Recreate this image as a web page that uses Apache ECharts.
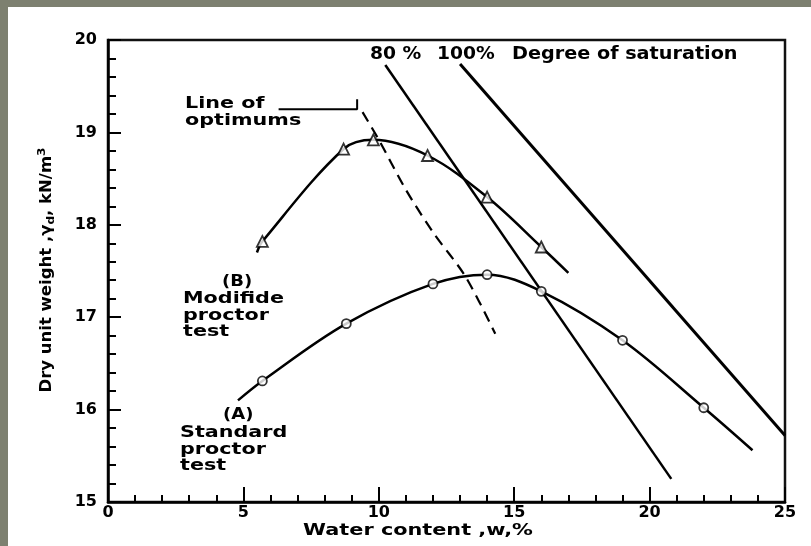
<!DOCTYPE html>
<html><head><meta charset="utf-8">
<script src="https://cdn.jsdelivr.net/npm/echarts@6/dist/echarts.min.js"></script>
<style>
html,body{margin:0;padding:0;background:#7d8070;}
#wrap{position:absolute;left:8px;top:7px;width:803px;height:539px;background:#fff;}
#c{position:absolute;left:0;top:0;width:811px;height:546px;}
</style></head>
<body><div id="wrap"></div><div id="c"></div>
<script>
// X / Y tick labels
const xTicks = [0, 5, 10, 15, 20, 25];
const yTicks = [15, 16, 17, 18, 19, 20];
// (B) Modified proctor test: measured points and drawn curve
const modX = [5.7, 8.7, 9.8, 11.8, 14.0, 16.0];
const modY = [17.82, 18.82, 18.92, 18.75, 18.30, 17.76];
const modCurveX = [5.5, 5.7, 8.7, 9.8, 11.8, 14.0, 16.0, 17.0];
const modCurveY = [17.70, 17.82, 18.82, 18.92, 18.75, 18.30, 17.76, 17.48];
// (A) Standard proctor test
const stdX = [5.7, 8.8, 12.0, 14.0, 16.0, 19.0, 22.0];
const stdY = [16.31, 16.93, 17.36, 17.46, 17.28, 16.75, 16.02];
const stdCurveX = [4.8, 5.7, 8.8, 12.0, 14.0, 16.0, 19.0, 22.0, 23.8];
const stdCurveY = [16.10, 16.31, 16.93, 17.36, 17.46, 17.28, 16.75, 16.02, 15.56];
// Line of optimums (dashed)
const optX = [9.4, 10.0, 11.0, 12.0, 13.2, 14.3];
const optY = [19.22, 18.92, 18.38, 17.92, 17.44, 16.82];
// leader line from label
const leadX = [6.3, 9.2, 9.2];
const leadY = [19.25, 19.25, 19.36];
// Saturation lines
const sat80X = [10.24, 20.8];
const sat80Y = [19.73, 15.25];
const sat100X = [13.0, 25.0];
const sat100Y = [19.74, 15.72];

const zip = (a, b) => a.map((v, i) => [v, b[i]]);
const font = '"DejaVu Sans", sans-serif';
const chart = echarts.init(document.getElementById('c'), null, {renderer: 'canvas'});
const lineS = (data, extra) => Object.assign({
  type: 'line', data, showSymbol: false, symbol: 'none', silent: true,
  lineStyle: {color: '#000', width: 2.5}, z: 3
}, extra || {});
const txt = (text, x, y, size, sx) => ({type: 'text', x, y, scaleX: sx || 1.38,
  style: {text, font: 'bold ' + size + 'px ' + font, fill: '#000', lineHeight: 16.5}});
chart.setOption({
  animation: false,
  backgroundColor: 'transparent',
  grid: {left: 108, right: 26, top: 40, bottom: 44, show: true, borderColor: '#111', borderWidth: 2.5, backgroundColor: 'transparent'},
  xAxis: {
    type: 'value', min: 0, max: 25, interval: 5,
    axisLine: {lineStyle: {color: '#000', width: 2.5}},
    axisTick: {inside: true, length: 15, lineStyle: {color: '#000', width: 2}},
    minorTick: {show: true, splitNumber: 5, length: 7, lineStyle: {color: '#000', width: 2}},
    axisLabel: {fontFamily: font, fontWeight: 'bold', fontSize: 16, color: '#000', margin: 3,
      formatter: v => xTicks.includes(v) ? String(v) : ''},
    splitLine: {show: false}
  },
  yAxis: {
    type: 'value', min: 15, max: 20, interval: 1,
    axisLine: {lineStyle: {color: '#000', width: 2.5}},
    axisTick: {inside: true, length: 13, lineStyle: {color: '#000', width: 2}},
    minorTick: {show: true, splitNumber: 5, length: 8, lineStyle: {color: '#000', width: 2}},
    axisLabel: {fontFamily: font, fontWeight: 'bold', fontSize: 16, color: '#000', margin: 11,
      formatter: v => yTicks.includes(v) ? String(v) : ''},
    splitLine: {show: false}
  },
  series: [
    lineS(zip(modCurveX, modCurveY), {smooth: 0.35}),
    lineS(zip(stdCurveX, stdCurveY), {smooth: 0.35}),
    lineS(zip(optX, optY), {smooth: 0.3, lineStyle: {color: '#000', width: 2.2, type: [11, 7]}}),
    lineS(zip(leadX, leadY), {lineStyle: {color: '#000', width: 2}}),
    lineS(zip(sat80X, sat80Y)),
    lineS(zip(sat100X, sat100Y), {lineStyle: {color: '#000', width: 3}}),
    {type: 'scatter', data: zip(modX, modY), symbol: 'triangle', symbolSize: 11, z: 5,
      itemStyle: {color: '#fff', borderColor: '#000', borderWidth: 1.8}},
    {type: 'scatter', data: zip(stdX, stdY), symbol: 'circle', symbolSize: 9, z: 5,
      itemStyle: {color: '#fff', borderColor: '#000', borderWidth: 1.8}}
  ],
  graphic: [
    txt('80 %', 370, 46, 17, 1.1),
    txt('100%', 437, 46, 17, 1.1),
    txt('Degree of saturation', 512, 46, 17, 1.13),
    txt('Line of\noptimums', 185, 96, 15),
    txt('(B)', 222, 274, 15, 1.2),
    txt('Modifide\nproctor\ntest', 183, 291, 15),
    txt('(A)', 223, 407, 15, 1.2),
    txt('Standard\nproctor\ntest', 180, 425, 15),
    {type: 'text', x: 418, y: 531, scaleX: 1.3, style: {text: 'Water content ,w,%', font: 'bold 16px ' + font,
      fill: '#000', align: 'center', verticalAlign: 'middle'}},
    {type: 'text', x: 47, y: 270, rotation: Math.PI / 2, scaleX: 1.1, style: {
      text: '{a|Dry unit weight ,γ}{s|d}{a|, kN/m}{p|3}', align: 'center', verticalAlign: 'middle',
      rich: {
        a: {fontFamily: font, fontWeight: 'bold', fontSize: 15, fill: '#000'},
        s: {fontFamily: font, fontWeight: 'bold', fontSize: 11, fill: '#000', verticalAlign: 'bottom', padding: [6, 0, 0, 0]},
        p: {fontFamily: font, fontWeight: 'bold', fontSize: 11, fill: '#000', verticalAlign: 'top', padding: [0, 0, 9, 0]}
      }}}
  ]
});
</script></body></html>
